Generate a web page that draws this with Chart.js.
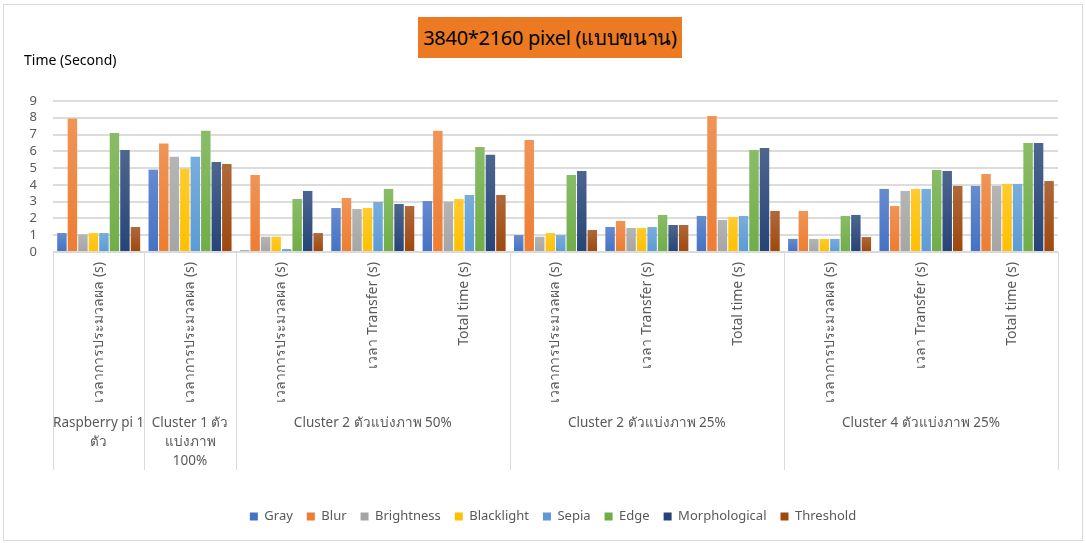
<!DOCTYPE html>
<html>
<head>
<meta charset="utf-8">
<script src="https://cdn.jsdelivr.net/npm/chart.js@4.4.1/dist/chart.umd.min.js"></script>
<style>
  body { margin: 0; background: #fff; }
  #wrap { position: relative; width: 1086px; height: 543px; font-family: 'Noto Sans', sans-serif; }
  #frame { position: absolute; left: 3px; top: 4px; width: 1078px; height: 535px; border: 1px solid #d9d9d9; pointer-events: none; }
  #title { position: absolute; left: 418px; top: 17px; width: 264px; height: 41px; background: #EB7A22; color: #000; font-size: 20px; line-height: 41px; text-align: center; letter-spacing: -0.3px; }
  #ytitle { position: absolute; left: 24px; top: 50px; font-size: 14px; color: #000; }
</style>
</head>
<body>
<div id="wrap">
  <canvas id="timeChart" width="1086" height="543"></canvas>
  <div id="frame"></div>
  <div id="title">3840*2160 pixel (แบบขนาน)</div>
  <div id="ytitle">Time (Second)</div>
</div>
<script>
// sub categories (rotated labels) and their groups
const categories = [
  "เวลาการประมวลผล (s)",
  "เวลาการประมวลผล (s)",
  "เวลาการประมวลผล (s)", "เวลา Transfer (s)", "Total time (s)",
  "เวลาการประมวลผล (s)", "เวลา Transfer (s)", "Total time (s)",
  "เวลาการประมวลผล (s)", "เวลา Transfer (s)", "Total time (s)"
];
const groupNames = [
  ["Raspberry pi 1", "ตัว"],
  ["Cluster 1 ตัว", "แบ่งภาพ", "100%"],
  ["Cluster 2 ตัวแบ่งภาพ 50%"],
  ["Cluster 2 ตัวแบ่งภาพ 25%"],
  ["Cluster 4 ตัวแบ่งภาพ 25%"]
];
const groupSizes = [1, 1, 3, 3, 3];

const yTicks = [0, 1, 2, 3, 4, 5, 6, 7, 8, 9];

const seriesNames = ["Gray", "Blur", "Brightness", "Blacklight", "Sepia", "Edge", "Morphological", "Threshold"];
const gray          = [1.13, 4.91, 0.10, 2.62, 3.04, 1.01, 1.49, 2.15, 0.78, 3.76, 3.94];
const blur          = [7.95, 6.46, 4.59, 3.22, 7.22, 6.68, 1.85, 8.11, 2.45, 2.74, 4.65];
const brightness    = [1.05, 5.67, 0.91, 2.56, 3.00, 0.91, 1.43, 1.91, 0.78, 3.64, 3.94];
const blacklight    = [1.13, 4.97, 0.91, 2.62, 3.16, 1.13, 1.43, 2.09, 0.78, 3.76, 4.06];
const sepia         = [1.13, 5.67, 0.18, 2.98, 3.40, 1.01, 1.49, 2.15, 0.78, 3.76, 4.06];
const edge          = [7.10, 7.22, 3.16, 3.76, 6.26, 4.59, 2.21, 6.08, 2.15, 4.89, 6.50];
const morphological = [6.08, 5.37, 3.64, 2.86, 5.79, 4.83, 1.61, 6.20, 2.21, 4.83, 6.50];
const threshold     = [1.49, 5.25, 1.13, 2.74, 3.40, 1.31, 1.61, 2.45, 0.89, 3.94, 4.23];

const seriesData = [gray, blur, brightness, blacklight, sepia, edge, morphological, threshold];
const colors = ["#4472C4", "#ED7D31", "#A5A5A5", "#FFC000", "#5B9BD5", "#70AD47", "#264478", "#9E480E"];

const FONT = "'Noto Sans', sans-serif";
const TEXT = "#595959";

function lighten(hex, amt) {
  const n = parseInt(hex.slice(1), 16);
  const r = (n >> 16) & 255, g = (n >> 8) & 255, b = n & 255;
  const f = c => Math.round(c + (255 - c) * amt);
  return `rgb(${f(r)},${f(g)},${f(b)})`;
}

// office-like gradient, lighter at the top of each bar
function barFill(base) {
  return (ctx) => {
    const chart = ctx.chart;
    const area = chart.chartArea;
    if (!area || ctx.raw == null) return base;
    const top = chart.scales.y.getPixelForValue(ctx.raw);
    const g = chart.ctx.createLinearGradient(0, top, 0, area.bottom);
    g.addColorStop(0, lighten(base, 0.18));
    g.addColorStop(1, base);
    return g;
  };
}

// second level of the category axis: separators and group names
const groupAxis = {
  id: "groupAxis",
  afterLayout(chart) {
    // legend sits a little right of centre in the original
    chart.legend.left += 14;
    chart.legend.right += 14;
  },
  afterDraw(chart) {
    const x = chart.scales.x;
    const c = chart.ctx;
    const top = x.top;
    const bottom = x.top + 218;
    const edges = [x.getPixelForValue(-0.5)];
    let count = 0;
    groupSizes.forEach(n => { count += n; edges.push(x.getPixelForValue(count - 0.5)); });
    c.save();
    c.strokeStyle = "#d9d9d9";
    c.lineWidth = 1;
    edges.forEach(px => {
      const xx = Math.round(px) + 0.5;
      c.beginPath();
      c.moveTo(xx, top);
      c.lineTo(xx, bottom);
      c.stroke();
    });
    c.fillStyle = TEXT;
    c.font = "13.5px " + FONT;
    c.textAlign = "center";
    c.textBaseline = "middle";
    groupNames.forEach((lines, i) => {
      const cx = (edges[i] + edges[i + 1]) / 2;
      lines.forEach((t, j) => c.fillText(t, cx, top + 171 + j * 19));
    });
    c.restore();
  }
};

new Chart(document.getElementById("timeChart"), {
  type: "bar",
  data: {
    labels: categories,
    datasets: seriesNames.map((name, i) => ({
      label: name,
      data: seriesData[i],
      backgroundColor: barFill(colors[i]),
      categoryPercentage: 0.92,
      barPercentage: 0.9
    }))
  },
  options: {
    responsive: false,
    animation: false,
    layout: { padding: { left: 20, right: 28, top: 101, bottom: 10 } },
    plugins: {
      legend: {
        position: "bottom",
        labels: {
          boxWidth: 8,
          boxHeight: 8,
          padding: 14,
          color: TEXT,
          font: { family: FONT, size: 13 },
          generateLabels(chart) {
            return chart.data.datasets.map((ds, i) => ({
              text: ds.label,
              fillStyle: colors[i],
              strokeStyle: colors[i],
              lineWidth: 0,
              datasetIndex: i,
              fontColor: TEXT
            }));
          }
        }
      },
      tooltip: { enabled: false }
    },
    scales: {
      x: {
        grid: { display: false, drawTicks: false },
        border: { display: true, color: "#d9d9d9", width: 1 },
        ticks: {
          minRotation: 90,
          maxRotation: 90,
          autoSkip: false,
          padding: 10,
          color: TEXT,
          font: { family: FONT, size: 14 }
        },
        afterFit(scale) { scale.height = 244; }
      },
      y: {
        min: 0,
        max: 9,
        afterBuildTicks(scale) { scale.ticks = yTicks.map(v => ({ value: v })); },
        grid: { color: "#dcdcdc", lineWidth: 2, drawTicks: false },
        border: { display: false },
        ticks: {
          autoSkip: false,
          padding: 16,
          color: TEXT,
          font: { family: FONT, size: 13 }
        },
        afterFit(scale) { scale.width = 33; }
      }
    }
  },
  plugins: [groupAxis]
});
</script>
</body>
</html>
